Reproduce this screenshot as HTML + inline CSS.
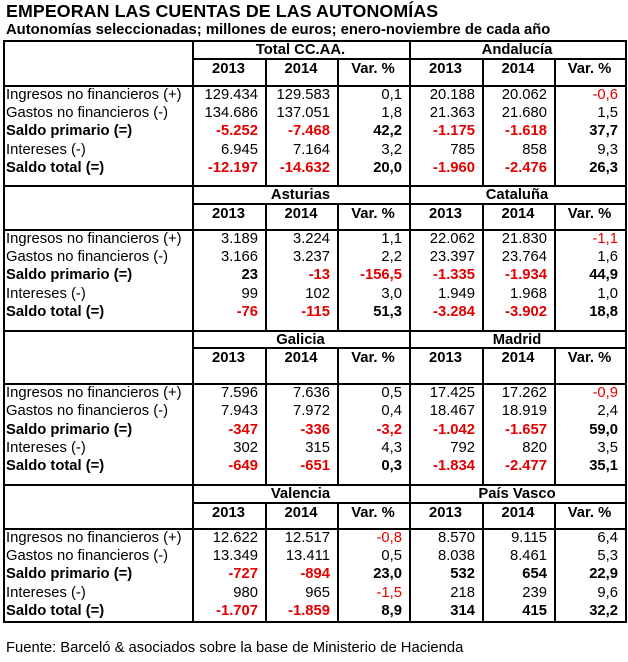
<!DOCTYPE html>
<html><head><meta charset="utf-8">
<style>
body{margin:0;width:628px;height:662px;background:#fff;position:relative;overflow:hidden;font-family:"Liberation Sans",Arial,sans-serif;color:#000}
.a{position:absolute}
.ln{position:absolute;background:#000}
.t{position:absolute;white-space:nowrap;font-size:14.8px;line-height:18px}
.b{font-weight:bold}
.r{color:#e30000}
</style></head><body>
<div class="a b" style="left:6px;top:1px;font-size:17.8px;line-height:20px;white-space:nowrap;letter-spacing:0.1px">EMPEORAN LAS CUENTAS DE LAS AUTONOMÍAS</div>
<div class="a b" style="left:6px;top:22px;font-size:14.8px;line-height:17px;white-space:nowrap">Autonomías seleccionadas; millones de euros; enero-noviembre de cada año</div>
<div id="tbl"></div>
<div class="a" style="left:6px;top:639px;font-size:14.8px;line-height:18px;white-space:nowrap">Fuente: Barceló &amp; asociados sobre la base de Ministerio de Hacienda</div>
<script>
const regions=["Total CC.AA.","Andalucía","Asturias","Cataluña","Galicia","Madrid","Valencia","País Vasco"];
const rowLabels=["Ingresos no financieros (+)","Gastos no financieros (-)","Saldo primario (=)","Intereses (-)","Saldo total (=)"];
const boldRows=[false,false,true,false,true];
const values=[
 [["129.434","129.583","0,1"],["134.686","137.051","1,8"],["-5.252","-7.468","42,2"],["6.945","7.164","3,2"],["-12.197","-14.632","20,0"]],
 [["20.188","20.062","-0,6"],["21.363","21.680","1,5"],["-1.175","-1.618","37,7"],["785","858","9,3"],["-1.960","-2.476","26,3"]],
 [["3.189","3.224","1,1"],["3.166","3.237","2,2"],["23","-13","-156,5"],["99","102","3,0"],["-76","-115","51,3"]],
 [["22.062","21.830","-1,1"],["23.397","23.764","1,6"],["-1.335","-1.934","44,9"],["1.949","1.968","1,0"],["-3.284","-3.902","18,8"]],
 [["7.596","7.636","0,5"],["7.943","7.972","0,4"],["-347","-336","-3,2"],["302","315","4,3"],["-649","-651","0,3"]],
 [["17.425","17.262","-0,9"],["18.467","18.919","2,4"],["-1.042","-1.657","59,0"],["792","820","3,5"],["-1.834","-2.477","35,1"]],
 [["12.622","12.517","-0,8"],["13.349","13.411","0,5"],["-727","-894","23,0"],["980","965","-1,5"],["-1.707","-1.859","8,9"]],
 [["8.570","9.115","6,4"],["8.038","8.461","5,3"],["532","654","22,9"],["218","239","9,6"],["314","415","32,2"]]
];
const secs=[[40,58,85,184],[185,203,229,330],[330,347,383,483],[484,502,528,621]];
const X=[3,192,265,337,409,482,554,625];
const T=document.getElementById('tbl');
function line(x,y,w,h,n){const d=document.createElement('div');d.className='ln';d.style.cssText=`left:${x}px;top:${y}px;width:${w}px;height:${h}px`;


T.appendChild(d);}
function txt(s,x,y,w,align,cls,n){const d=document.createElement('div');d.className='t '+cls;d.textContent=s;
let st=`top:${y}px;`;
if(align==='l')st+=`left:${x}px;`;else if(align==='r')st+=`left:${x}px;width:${w}px;text-align:right;`;else st+=`left:${x}px;width:${w}px;text-align:center;`;
d.style.cssText=st;


T.appendChild(d);}
secs.forEach((s,si)=>{
 const [top,rl,yl,bot]=s;
 line(X[0],top,X[7]-X[0]+1,2,'section-top-border');
 line(X[0],top,2,bot-top+2,'left-border');
 line(X[1],top,2,bot-top+2,'label-column-border');
 line(X[4],top,2,bot-top+2,'region-divider');
 line(X[7],top,2,bot-top+2,'right-border');
 line(X[1],rl,X[7]-X[1],2,'region-header-border');
 line(X[0],yl,X[7]-X[0]+1,2,'year-header-border');
 [2,3,5,6].forEach(c=>line(X[c],rl,2,bot-rl+2,'column-divider'));
 if(si===3)line(X[0],bot,X[7]-X[0]+2,2,'table-bottom-border');
 for(let k=0;k<2;k++){
  const ri=si*2+k;const x0=X[1+k*3];const x1=X[4+k*3];
  txt(regions[ri],x0,top+1,x1-x0,'c','b','region-name');
  ["2013","2014","Var. %"].forEach((h,j)=>txt(h,X[1+k*3+j],rl+2,X[2+k*3+j]-X[1+k*3+j],'c','b','year-header'));
 }
 const dy=yl+1;const sp=(si===2)?18.3:18.2;
 rowLabels.forEach((lab,i)=>{
  const y=Math.round(dy+i*sp);
  txt(lab,6,y,0,'l',boldRows[i]?'b':'','row-label');
  for(let k=0;k<2;k++){
   const v=values[si*2+k][i];
   v.forEach((val,j)=>{
    const c=1+k*3+j;
    const red=val.startsWith('-');
    txt(val,X[c],y,X[c+1]-X[c]-7,'r',(boldRows[i]?'b ':'')+(red?'r':''),'cell-value');
   });
  }
 });
});
</script>
</body></html>
